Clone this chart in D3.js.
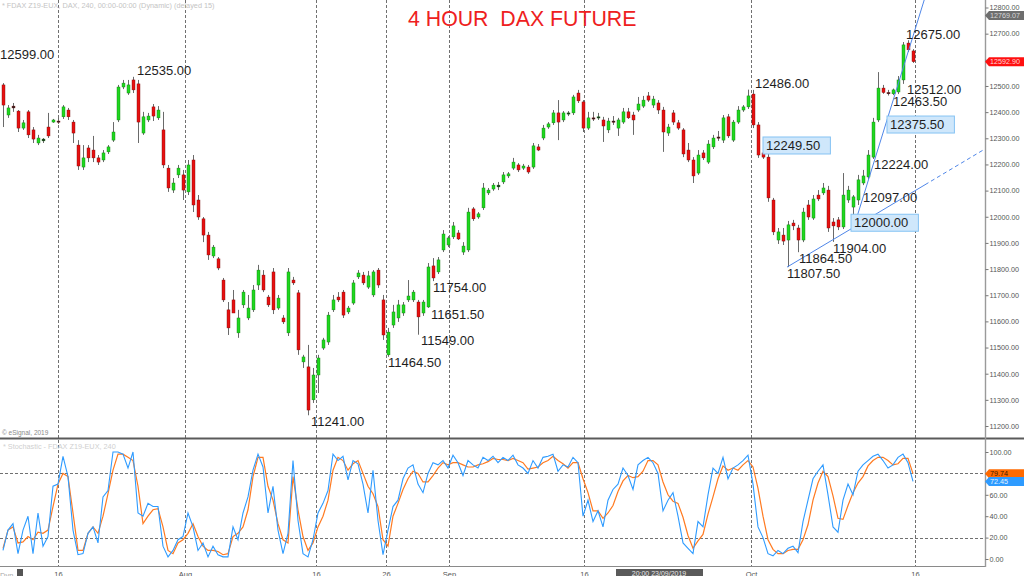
<!DOCTYPE html>
<html><head><meta charset="utf-8">
<script src="https://cdn.jsdelivr.net/npm/d3@7"></script>
<style>body{margin:0;background:#fff;overflow:hidden}svg{display:block;font-family:"Liberation Sans",Arial,sans-serif}</style>
</head><body><svg id="c" width="1024" height="576"></svg>
<script>
// ---------- DATA ----------
const opens=[12504,12389,12423,12404,12339,12401,12332,12282,12290,12343,
12362,12366,12382,12408,12362,12274,12190,12263,12255,12225,
12217,12248,12293,12370,12496,12473,12523,12508,12320,12370,
12420,12378,12332,12186,12102,12160,12160,12095,12217,12064,
11992,11930,11850,11839,11758,11644,11682,11556,11663,11613,
11644,11739,11777,11693,11789,11651,11613,11556,11758,11709,
11445,11426,11300,11395,11498,11521,11644,11693,11712,11636,
11670,11770,11777,11731,11701,11796,11682,11472,11586,11613,
11632,11682,11682,11674,11632,11655,11812,11789,11873,11892,
11923,11938,11865,11873,12030,11999,12034,12091,12106,12114,
12133,12156,12186,12198,12186,12190,12190,12267,12301,12343,
12359,12397,12370,12393,12397,12473,12439,12339,12378,12378,
12370,12332,12366,12339,12362,12401,12389,12408,12423,12462,
12427,12435,12408,12320,12397,12359,12332,12255,12217,12167,
12244,12209,12267,12305,12293,12382,12293,12362,12408,12420,
12469,12351,12244,12228,12064,11911,11930,11911,11976,11957,
11911,12045,11995,12083,12091,12102,11980,11988,11961,12064,
12037,12064,12129,12152,12228,12370,12492,12475,12470,12477,
12523,12664,12634];
const highs=[12511,12427,12435,12408,12370,12408,12343,12313,12301,12397,
12374,12378,12427,12416,12370,12293,12274,12274,12309,12236,
12255,12274,12362,12504,12523,12523,12535,12523,12401,12397,
12431,12423,12401,12198,12148,12198,12179,12217,12236,12083,
11999,11942,11892,11846,11766,11674,11720,11644,11720,11701,
11739,11816,11796,11701,11804,11701,11624,11804,11770,11720,
11472,11510,11422,11472,11537,11636,11701,11712,11720,11659,
11758,11796,11789,11793,11796,11804,11701,11575,11663,11682,
11674,11758,11720,11682,11682,11823,11842,11846,11949,11926,
11980,11949,11903,12034,12037,12018,12129,12110,12129,12133,
12171,12171,12225,12205,12202,12198,12282,12278,12351,12362,
12408,12446,12404,12404,12466,12485,12446,12401,12401,12397,
12382,12378,12385,12378,12416,12416,12401,12458,12462,12477,
12462,12446,12420,12355,12408,12370,12339,12282,12228,12255,
12255,12293,12313,12328,12389,12393,12370,12423,12427,12486,
12485,12362,12255,12244,12072,11957,11957,11984,11988,11969,
12034,12064,12083,12102,12129,12118,11995,11999,12167,12118,
12083,12160,12179,12255,12378,12553,12504,12485,12490,12538,
12668,12675,12641];
const lows=[12343,12378,12401,12324,12332,12301,12282,12274,12282,12301,
12359,12355,12374,12370,12282,12179,12179,12209,12209,12198,
12209,12240,12286,12362,12488,12466,12473,12282,12313,12362,
12366,12370,12186,12095,12091,12148,12064,12083,12018,11988,
11903,11835,11842,11796,11674,11548,11632,11537,11651,11605,
11636,11720,11712,11655,11628,11644,11590,11544,11739,11472,
11422,11241,11288,11326,11491,11510,11636,11674,11613,11628,
11663,11762,11739,11724,11693,11728,11529,11464.5,11575,11598,
11621,11674,11674,11549,11621,11651.5,11754,11781,11865,11884,
11915,11911,11854,11865,11984,11992,12026,12083,12099,12102,
12125,12148,12179,12171,12179,12164,12183,12251,12293,12336,
12351,12293,12362,12385,12389,12435,12324,12332,12366,12370,
12286,12320,12351,12309,12355,12374,12313,12401,12416,12439,
12416,12393,12248,12309,12351,12332,12228,12209,12129,12160,
12217,12202,12259,12290,12282,12301,12286,12355,12401,12412,
12339,12225,12221,12057,11930,11896,11892,11807.5,11949,11864.5,
11903,11988,11988,12060,12083,11942,11904,11949,11953,12053,
12000,12045,12121,12144,12221,12362,12470,12463.5,12465,12469,
12508,12630,12588];
const closes=[12427,12416,12416,12339,12359,12313,12297,12301,12297,12309,
12370,12362,12420,12382,12320,12194,12225,12225,12225,12209,
12244,12267,12324,12496,12511,12504,12485,12362,12382,12385,
12385,12408,12198,12110,12129,12186,12102,12198,12045,11999,
11930,11854,11884,11804,11682,11575,11632,11613,11712,11651,
11720,11796,11720,11663,11644,11689,11598,11789,11747,11491,
11464,11261,11395,11460,11529,11624,11682,11682,11624,11651,
11747,11785,11747,11774,11789,11739,11548,11559,11636,11663,
11663,11697,11712,11617,11674,11808,11766,11835,11934,11919,
11965,11915,11888,12018,11992,12011,12110,12102,12121,12121,
12160,12164,12209,12179,12194,12171,12271,12255,12339,12355,
12397,12362,12397,12397,12458,12443,12339,12378,12374,12382,
12347,12366,12362,12370,12401,12378,12370,12431,12446,12446,
12450,12408,12324,12343,12362,12339,12240,12217,12156,12236,
12225,12278,12301,12301,12378,12309,12362,12408,12420,12462,
12351,12236,12228,12072,11942,11942,11907,11969,11965,11911,
12018,11999,12068,12068,12110,11957,11965,11961,12083,12102,
12076,12141,12156,12236,12362,12492,12475,12470,12485,12523,
12657,12638,12592.9];
const stochK=[8,27,33,5,27,40,5,43,12,21,
68,70,96,77,27,4,5,24,30,15,
58,64,100,100,98,85,100,43,40,52,
49,49,12,2,8,18,21,43,30,8,
15,2,12,4,2,2,30,18,43,58,
83,98,86,43,68,27,5,24,92,36,
5,2,18,43,52,64,98,92,96,74,
92,89,70,43,83,36,4,27,49,55,
75,85,88,70,62,80,90,88,92,85,
97,90,78,92,88,85,95,92,96,90,
95,92,97,88,85,80,92,85,95,96,
98,82,88,86,95,90,40,55,35,45,
30,55,65,70,85,78,65,88,92,95,
90,80,45,55,62,40,15,10,5,35,
30,60,85,80,95,75,85,88,92,97,
70,30,20,5,3,8,5,10,12,6,
35,55,75,82,88,60,30,25,55,70,
60,82,88,92,96,98,92,85,88,95,
98,90,72.45];
const stochD=[10,27,30,15,16,21,18,25,24,27,
49,70,80,77,43,8,8,24,30,24,
40,61,83,98,98,95,92,68,33,40,
46,47,30,8,5,15,18,24,33,21,
12,8,8,7,4,5,21,24,30,46,
77,95,95,68,55,33,18,15,77,46,
21,8,15,30,40,55,83,95,92,83,
89,92,80,68,61,49,18,12,40,52,
65,75,82,80,72,72,78,85,90,88,
90,90,88,86,86,88,89,91,94,93,
93,92,94,92,90,84,85,86,90,92,
96,92,89,85,90,90,75,62,45,45,
38,43,50,63,73,78,76,77,82,92,
92,88,72,60,54,52,39,22,10,17,
23,42,58,75,87,83,85,83,88,92,
86,66,40,18,9,5,5,8,9,9,
18,32,55,71,82,77,59,38,37,50,
62,71,77,87,92,95,95,92,88,89,
94,94,79.74];
const timeLabels=["16","Aug","16","26","Sep","16","Oct","16"];
const timeBars=[11,36.4,62.6,76.6,89.2,116.2,149.6,182.4];
const priceTicks=d3.range(11200,12801,100);
const stochTicks=[0,20,40,60,80,100];
const stochLevels=[20,80];
const noteTexts=["12599.00","12535.00","11241.00","11464.50","11549.00","11651.50","11754.00","12486.00","12249.50","11807.50","11864.50","11904.00","12000.00","12097.00","12224.00","12375.50","12463.50","12512.00","12675.00"];
const notePrices=[12599,12535,11241,11464.5,11549,11651.5,11754,12486,12249.5,11807.5,11864.5,11904,12000,12097,12224,12375.5,12463.5,12512,12675];
const noteBars=[-0.6,26.8,61.6,77,83.6,85.6,86,150.4,152,156.8,159.2,166,169.6,172,174.2,176.8,178,180.8,180.6];
const noteSide=["a","a","b","b","b","b","b","a","a","b","b","b","b","b","b","b","b","b","a"];
const noteBoxed=[0,0,0,0,0,0,0,0,1,0,0,0,1,0,0,1,0,0,0];
const trend1=[[156.8,11807.5],[193.4,12225]];
const trend2=[[170.8,12000],[183,12752]];
const lastPrice=12592.90, highTag=12769.07, lastK=72.45, lastD=79.74;
const title="4 HOUR  DAX FUTURE";

// ---------- DRAW ----------
const svg=d3.select("#c");
const AX=985, PB=437, ST=440, SB=566;
const x=d3.scaleLinear().domain([0,182]).range([3,913]);
const y=d3.scaleLinear().domain([11200,12800]).range([426,7.5]);
const ys=d3.scaleLinear().domain([0,100]).range([559,452]);
const defs=svg.append("defs");
defs.append("clipPath").attr("id","cp").append("rect").attr("x",0).attr("y",0).attr("width",AX).attr("height",PB);
defs.append("clipPath").attr("id","cs").append("rect").attr("x",0).attr("y",ST).attr("width",AX).attr("height",SB-ST);

// vertical dashed grid
svg.append("g").selectAll("line").data(timeBars).join("line")
 .attr("x1",d=>Math.round(x(d))+0.5).attr("x2",d=>Math.round(x(d))+0.5).attr("y1",0).attr("y2",SB)
 .attr("stroke","#707070").attr("stroke-dasharray","3,2").attr("stroke-width",1);
// stoch levels
svg.append("g").selectAll("line").data(stochLevels).join("line")
 .attr("x1",0).attr("x2",AX).attr("y1",d=>Math.round(ys(d))+0.5).attr("y2",d=>Math.round(ys(d))+0.5)
 .attr("stroke","#707070").attr("stroke-dasharray","3,2");

// header texts
svg.append("text").attr("x",2).attr("y",8).attr("font-size",7.3).attr("fill","#c4c4c4")
 .text("* FDAX Z19-EUX, DAX, 240, 00:00-00:00 (Dynamic) (delayed 15)");
svg.append("text").attr("x",408).attr("y",26).attr("font-size",21.3).attr("fill","#ee2020")
 .attr("xml:space","preserve").style("white-space","pre").text(title);
svg.append("text").attr("x",2).attr("y",435).attr("font-size",6.5).attr("fill","#8a8a8a").text("\u00a9 eSignal, 2019");
svg.append("text").attr("x",3).attr("y",449).attr("font-size",7.3).attr("fill","#cfcfcf").text("* Stochastic - FDAX Z19-EUX, 240");

// candles
const bars=closes.map((c,i)=>({i,o:opens[i],h:highs[i],l:lows[i],c}));
const pg=svg.append("g").attr("clip-path","url(#cp)");
pg.selectAll("line.w").data(bars).join("line").attr("class","w")
 .attr("x1",d=>Math.round(x(d.i))+0.5).attr("x2",d=>Math.round(x(d.i))+0.5)
 .attr("y1",d=>y(d.h)).attr("y2",d=>y(d.l)).attr("stroke","#6a6a6a").attr("stroke-width",1);
pg.selectAll("rect.b").data(bars).join("rect").attr("class","b")
 .attr("x",d=>Math.round(x(d.i))-1).attr("width",3)
 .attr("y",d=>y(Math.max(d.o,d.c))).attr("height",d=>Math.max(1.2,Math.abs(y(d.o)-y(d.c))))
 .attr("fill",d=>Math.abs(y(d.o)-y(d.c))<2?"#222":(d.c>=d.o?"#1fd81f":"#e81010"))
 .attr("stroke",d=>d.c>=d.o?"#137a13":"#7a0a0a").attr("stroke-width",0.4);

// trend lines
const tl=(seg,t)=>seg[0][1]+(t-seg[0][0])*(seg[1][1]-seg[0][1])/(seg[1][0]-seg[0][0]);
const lineCol="#4f86e8";
pg.append("line").attr("x1",x(trend1[0][0])).attr("y1",y(trend1[0][1]))
 .attr("x2",x(184.4)).attr("y2",y(tl(trend1,184.4))).attr("stroke",lineCol).attr("stroke-width",1);
pg.append("line").attr("x1",x(184.4)).attr("y1",y(tl(trend1,184.4)))
 .attr("x2",x(196.4)).attr("y2",y(tl(trend1,196.4))).attr("stroke",lineCol).attr("stroke-width",1).attr("stroke-dasharray","4,3");
pg.append("line").attr("x1",x(trend2[0][0])).attr("y1",y(trend2[0][1]))
 .attr("x2",x(184.6)).attr("y2",y(tl(trend2,184.6))).attr("stroke",lineCol).attr("stroke-width",1);

// annotations
const ng=svg.append("g");
noteTexts.forEach((t,k)=>{
  const lx=x(noteBars[k]);
  const cy=y(notePrices[k])+(noteSide[k]==="a"?-6:6);
  if(noteBoxed[k]){
    ng.append("rect").attr("x",lx).attr("y",cy-8.5).attr("width",t.length*7.3+9).attr("height",17)
      .attr("fill","#cfe7fb").attr("stroke","#86c3f3").attr("stroke-width",1);
  }
  ng.append("text").attr("x",lx+(noteBoxed[k]?3:0)).attr("y",cy).attr("dy","0.36em")
    .attr("font-size",13).attr("fill","#1e1e1e").text(t);
});

// stochastic lines
const sg=svg.append("g").attr("clip-path","url(#cs)");
const ln=d3.line().x((d,i)=>x(i)).y(d=>ys(d));
sg.append("path").attr("d",ln(stochD)).attr("fill","none").attr("stroke","#ff7a21").attr("stroke-width",1.2);
sg.append("path").attr("d",ln(stochK)).attr("fill","none").attr("stroke","#2e9bff").attr("stroke-width",1.1);

// frame
svg.append("line").attr("x1",0).attr("x2",1024).attr("y1",438.5).attr("y2",438.5).attr("stroke","#5a5a5a").attr("stroke-width",2);
svg.append("line").attr("x1",0).attr("x2",AX).attr("y1",SB+0.5).attr("y2",SB+0.5).attr("stroke","#8a8a8a").attr("stroke-width",1);
svg.append("line").attr("x1",AX+0.5).attr("x2",AX+0.5).attr("y1",0).attr("y2",SB+1).attr("stroke","#9a9a9a").attr("stroke-width",1.4);

// right axes
const styleAxis=g=>{g.select(".domain").remove();g.selectAll("line").attr("stroke","#777");
  g.selectAll("text").attr("font-size",7.2).attr("fill","#555").attr("font-family","Liberation Sans, Arial");};
svg.append("g").attr("transform",`translate(${AX+0.5},0)`)
 .call(d3.axisRight(y).tickValues(priceTicks).tickFormat(d3.format(".2f")).tickSize(3).tickPadding(1)).call(styleAxis);
svg.append("g").attr("transform",`translate(${AX+0.5},0)`)
 .call(d3.axisRight(ys).tickValues(stochTicks).tickFormat(d3.format(".2f")).tickSize(3).tickPadding(1)).call(styleAxis);

// bottom axis
svg.append("g").attr("transform",`translate(0,${SB})`)
 .call(d3.axisBottom(x).tickValues(timeBars).tickFormat((d,i)=>timeLabels[i]).tickSize(0).tickPadding(6))
 .call(g=>{g.select(".domain").remove();g.selectAll("text").attr("font-size",7.5).attr("fill","#555");});
svg.append("text").attr("x",0).attr("y",578).attr("font-size",7.5).attr("fill","#aaa").text("Dyn");
svg.append("rect").attr("x",17).attr("y",569).attr("width",6).attr("height",7).attr("fill","#555");
svg.append("rect").attr("x",616).attr("y",569).attr("width",87).attr("height",8).attr("fill","#5a5a5a");
svg.append("text").attr("x",659).attr("y",575.5).attr("text-anchor","middle").attr("font-size",7).attr("fill","#e8e8e8").text("20:00 23/09/2019");

// value tags
function tag(cy,txt,fill,tc){
  svg.append("path").attr("d",`M${AX},${cy} L${AX+4},${cy-4.5} L1024,${cy-4.5} L1024,${cy+4.5} L${AX+4},${cy+4.5} Z`).attr("fill",fill);
  svg.append("text").attr("x",AX+5).attr("y",cy).attr("dy","0.35em").attr("font-size",7.2).attr("fill",tc).text(txt);
}
tag(y(highTag),d3.format(".2f")(highTag),"#6e6e6e","#d8d8d8");
tag(y(lastPrice),d3.format(".2f")(lastPrice),"#ff1010","#ffd6d6");
tag(ys(lastD),d3.format(".2f")(lastD),"#ff6a00","#3a1a00");
tag(ys(lastK),d3.format(".2f")(lastK),"#2e9bff","#e6f3ff");
</script></body></html>
